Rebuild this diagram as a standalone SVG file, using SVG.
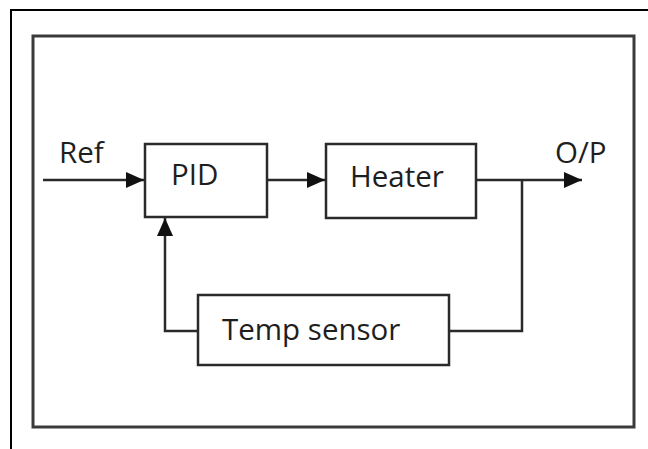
<svg xmlns="http://www.w3.org/2000/svg" width="648" height="449" viewBox="0 0 648 449">
<style>
.frame{fill:none;stroke:#000;stroke-width:2}
.box{fill:#fff;stroke:#2a2a2a;stroke-width:2.5}
.wire{fill:none;stroke:#2a2a2a;stroke-width:2.5}
.lbl{font-family:"Open Sans","Liberation Sans",sans-serif;font-size:29.5px;fill:#1e1e1e}
</style>
<defs>
<marker id="arr" viewBox="0 0 18 16" refX="18" refY="8" markerWidth="18" markerHeight="16" markerUnits="userSpaceOnUse" orient="auto">
<path d="M0,0 L18,8 L0,16 Z" fill="#111"/>
</marker>
</defs>
<rect width="648" height="449" fill="#fff"/>
<path class="frame" d="M11,449 V10 H648"/>
<rect x="33" y="36" width="601" height="391" fill="none" stroke="#3a3a3a" stroke-width="3"/>
<g id="connectors">
<path class="wire" d="M43,180 H144" marker-end="url(#arr)"/>
<path class="wire" d="M267,180 H325" marker-end="url(#arr)"/>
<path class="wire" d="M476,180 H582" marker-end="url(#arr)"/>
<path class="wire" d="M522,180 V331 H449"/>
<path class="wire" d="M198,331 H165 V218" marker-end="url(#arr)"/>
</g>
<g id="ref"><text class="lbl" x="59" y="163">Ref</text></g>
<g id="op"><text class="lbl" x="555" y="163">O/P</text></g>
<g id="pid">
<rect class="box" x="145" y="144" width="122" height="73"/>
<text class="lbl" x="171" y="185">PID</text>
</g>
<g id="heater">
<rect class="box" x="326" y="144" width="150" height="74"/>
<text class="lbl" x="350" y="187">Heater</text>
</g>
<g id="tempsensor">
<rect class="box" x="198" y="295" width="251" height="70"/>
<text class="lbl" x="222" y="340">Temp sensor</text>
</g>
</svg>
